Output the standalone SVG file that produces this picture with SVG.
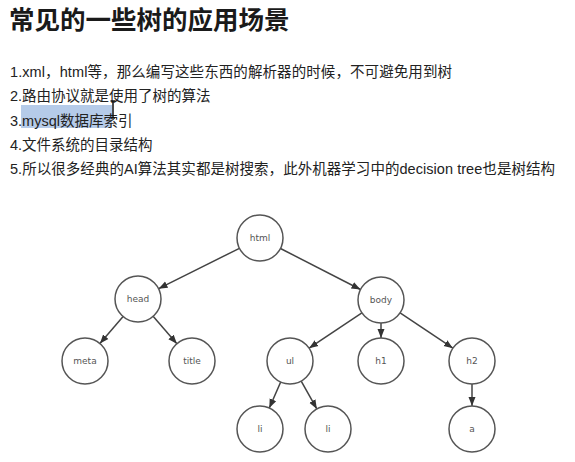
<svg xmlns="http://www.w3.org/2000/svg" width="575" height="462" viewBox="0 0 575 462">
<style>
.title{font-family:"Liberation Sans","Noto Sans CJK SC",sans-serif;font-size:25.5px;font-weight:bold;fill:#1a1a1a}
.line{font-family:"Liberation Sans","Noto Sans CJK SC",sans-serif;font-size:14.5px;fill:#222}
.node circle{fill:#fff;stroke:#555;stroke-width:1.5}
.node text{font-family:"DejaVu Sans",sans-serif;font-size:9px;fill:#555;text-anchor:middle;dominant-baseline:central}
.edges line{stroke:#444;stroke-width:1.5;marker-end:url(#arr)}
</style>
<defs>
<marker id="arr" markerUnits="userSpaceOnUse" markerWidth="10" markerHeight="8" refX="9" refY="4" orient="auto">
<path d="M0,0.5 L9,4 L0,7.5 Z" fill="#333"/>
</marker>
</defs>
<rect width="575" height="462" fill="#fff"/>
<text class="title" x="9" y="29">常见的一些树的应用场景</text>
<rect x="21" y="105" width="91" height="23" fill="#b5cbe9"/>
<text class="line" x="10" y="77" textLength="442" lengthAdjust="spacing">1.xml，html等，那么编写这些东西的解析器的时候，不可避免用到树</text>
<text class="line" x="10" y="101">2.路由协议就是使用了树的算法</text>
<text class="line" x="10" y="126">3.mysql数据库索引</text>
<text class="line" x="10" y="150">4.文件系统的目录结构</text>
<text class="line" x="10" y="174" textLength="545" lengthAdjust="spacing">5.所以很多经典的AI算法其实都是树搜索，此外机器学习中的decision tree也是树结构</text>
<g id="cursor" stroke="#111" stroke-width="1.5"><line x1="113" y1="101" x2="113" y2="118"/><line x1="110.5" y1="101" x2="115.5" y2="101"/><line x1="111" y1="118" x2="115" y2="118"/></g>
<g class="edges" id="connectors">
<line x1="239.4" y1="248.3" x2="158.6" y2="288.7"/>
<line x1="280.5" y1="248.5" x2="360.5" y2="289.5"/>
<line x1="123.1" y1="316.5" x2="99.9" y2="343.5"/>
<line x1="153.1" y1="316.3" x2="176.9" y2="343.7"/>
<line x1="361.9" y1="312.8" x2="309.1" y2="348.2"/>
<line x1="381" y1="323" x2="381" y2="338"/>
<line x1="400.1" y1="312.8" x2="452.9" y2="348.2"/>
<line x1="280.7" y1="382" x2="269.3" y2="408"/>
<line x1="301.2" y1="381.1" x2="316.8" y2="408.9"/>
<line x1="472" y1="384" x2="472" y2="406"/>
</g>
<g class="node" id="n-html"><circle cx="260" cy="238" r="23"/><text x="260" y="238">html</text></g>
<g class="node" id="n-head"><circle cx="138" cy="299" r="23"/><text x="138" y="299">head</text></g>
<g class="node" id="n-body"><circle cx="381" cy="300" r="23"/><text x="381" y="300">body</text></g>
<g class="node" id="n-meta"><circle cx="85" cy="361" r="23"/><text x="85" y="361">meta</text></g>
<g class="node" id="n-title"><circle cx="192" cy="361" r="23"/><text x="192" y="361">title</text></g>
<g class="node" id="n-ul"><circle cx="290" cy="361" r="23"/><text x="290" y="361">ul</text></g>
<g class="node" id="n-h1"><circle cx="381" cy="361" r="23"/><text x="381" y="361">h1</text></g>
<g class="node" id="n-h2"><circle cx="472" cy="361" r="23"/><text x="472" y="361">h2</text></g>
<g class="node" id="n-li1"><circle cx="260" cy="429" r="23"/><text x="260" y="429">li</text></g>
<g class="node" id="n-li2"><circle cx="328" cy="429" r="23"/><text x="328" y="429">li</text></g>
<g class="node" id="n-a"><circle cx="472" cy="429" r="23"/><text x="472" y="429">a</text></g>
</svg>
